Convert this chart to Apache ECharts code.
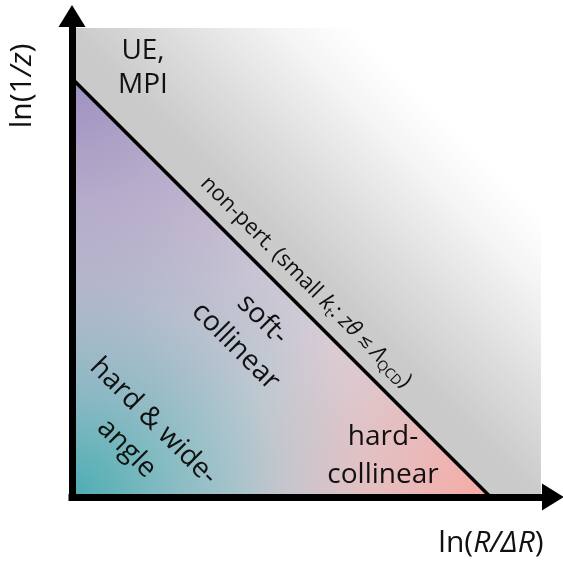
<!DOCTYPE html>
<html>
<head>
<meta charset="utf-8">
<script src="https://cdn.jsdelivr.net/npm/echarts@6/dist/echarts.min.js"></script>
<style>
  html, body { margin: 0; padding: 0; background: #fff; }
  #chart { width: 563px; height: 568px; }
</style>
</head>
<body>
<div id="chart"></div>
<script>
// plane coordinates (arbitrary units, 0..100 on both axes)
const axisMin = 0;
const axisMax = 100;
// upper edge of the drawn region (UE / MPI + non-perturbative zone)
const outerEdge = [[0, 97.5], [97.5, 97.5]];
// kt = Lambda_QCD boundary: separates perturbative triangle from non-pert. zone
const ktBoundary = [[0, 87], [87, 0]];

const font = '"Open Sans", "Noto Sans", sans-serif';

function radial(cx, cy, r, rgb) {
  return {
    type: 'radial', x: cx, y: cy, r: r,
    colorStops: [
      { offset: 0, color: 'rgba(' + rgb + ',1)' },
      { offset: 0.35, color: 'rgba(' + rgb + ',0.55)' },
      { offset: 0.7, color: 'rgba(' + rgb + ',0.18)' },
      { offset: 1, color: 'rgba(' + rgb + ',0)' }
    ]
  };
}

function area(data, color, line) {
  return {
    type: 'line',
    data: data,
    symbol: 'none',
    silent: true,
    lineStyle: line || { width: 0, opacity: 0 },
    areaStyle: { color: color, opacity: 1 }
  };
}

function axis() {
  return {
    type: 'value',
    min: axisMin,
    max: axisMax,
    z: 10,
    axisLine: {
      show: true,
      symbol: ['none', 'triangle'],
      symbolSize: [27, 22],
      lineStyle: { color: '#000', width: 7, cap: 'square' }
    },
    axisTick: { show: false },
    axisLabel: { show: false },
    splitLine: { show: false }
  };
}

function label(x, y, rot, text, size, lh, rich) {
  return {
    type: 'text', x: x, y: y, rotation: rot, z: 100,
    style: {
      text: text, fontSize: size, fontFamily: font, fill: '#111',
      align: 'center', verticalAlign: 'middle', lineHeight: lh,
      rich: rich
    }
  };
}

const chart = echarts.init(document.getElementById('chart'));
const d = -Math.PI / 4;

chart.setOption({
  animation: false,
  grid: { left: 72, right: 10, top: 16, bottom: 71 },
  xAxis: axis(),
  yAxis: axis(),
  series: [
    area(outerEdge, {
      type: 'linear', x: 0, y: 1, x2: 1, y2: 0,
      colorStops: [
        { offset: 0, color: '#c2c2c2' },
        { offset: 0.5, color: '#cbcbcb' },
        { offset: 0.6, color: '#dddddd' },
        { offset: 0.72, color: '#f4f4f4' },
        { offset: 0.8, color: '#ffffff' },
        { offset: 1, color: '#ffffff' }
      ]
    }),
    area(ktBoundary, '#d6cfd8'),
    area(ktBoundary, radial(0, 1, 0.72, '76,173,179')),
    area(ktBoundary, radial(0, 0, 0.9, '158,145,192')),
    area(ktBoundary, radial(1, 1, 0.62, '248,170,163'), { color: '#000', width: 3.5 })
  ],
  graphic: [
    label(143, 68, 0, 'UE,\nMPI', 28, 34),
    label(22, 86, Math.PI / 2, '{n|ln(1}{i|/z}{n|)}', 30, 34, {
      n: { fontSize: 30, fontFamily: font, fill: '#111' },
      i: { fontSize: 30, fontFamily: font, fontStyle: 'italic', fill: '#111' }
    }),
    label(491, 543, 0, '{n|ln(}{i|R/ΔR}{n|)}', 30, 34, {
      n: { fontSize: 30, fontFamily: font, fill: '#111' },
      i: { fontSize: 30, fontFamily: font, fontStyle: 'italic', fill: '#111' }
    }),
    label(383, 456, 0, 'hard-\ncollinear', 28, 38),
    label(249, 333, d, 'soft-\ncollinear', 28, 38),
    label(140, 435, d, 'hard & wide-\nangle', 28, 38),
    label(306, 282, d,
      '{n|non-pert. (small }{i|k}{s|t}{n|: }{i|zθ}{m| ≲ }{i|Λ}{s|QCD}{n|)}', 22, 26, {
      n: { fontSize: 22, fontFamily: font, fill: '#111', lineHeight: 26 },
      m: { fontSize: 17, fontFamily: font, fill: '#111', lineHeight: 26 },
      i: { fontSize: 22, fontFamily: font, fontStyle: 'italic', fill: '#111', lineHeight: 26 },
      s: { fontSize: 14, fontFamily: font, fill: '#111', lineHeight: 14, verticalAlign: 'bottom' }
    })
  ]
});
</script>
</body>
</html>
